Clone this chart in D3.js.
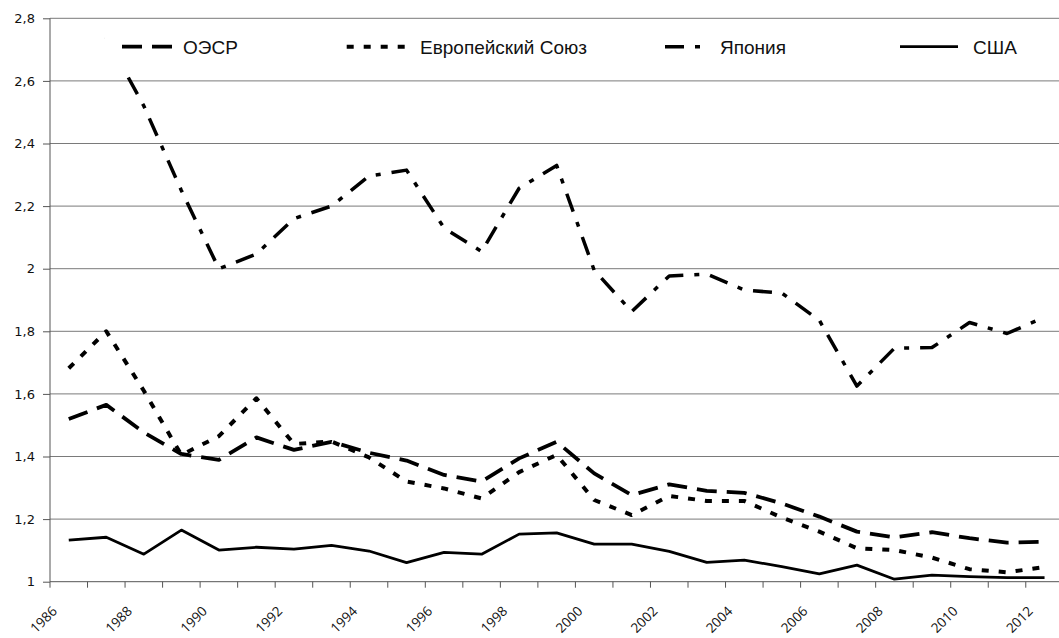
<!DOCTYPE html>
<html>
<head>
<meta charset="utf-8">
<script src="https://cdn.jsdelivr.net/npm/d3@7"></script>
<style>
  html, body { margin: 0; padding: 0; background: #fff; }
  svg { display: block; }
</style>
</head>
<body>
<svg id="chart" width="1059" height="638"></svg>
<script>
const years = [1986,1987,1988,1989,1990,1991,1992,1993,1994,1995,1996,1997,1998,1999,
               2000,2001,2002,2003,2004,2005,2006,2007,2008,2009,2010,2011,2012];
const xTickLabels = [1986,1988,1990,1992,1994,1996,1998,2000,2002,2004,2006,2008,2010,2012];
const yTicks = [1,1.2,1.4,1.6,1.8,2,2.2,2.4,2.6,2.8];
const seriesNames = ["ОЭСР","Европейский Союз","Япония","США"];

const oecd  = [1.520,1.565,1.477,1.408,1.389,1.461,1.421,1.447,1.412,1.387,1.341,1.320,1.394,1.447,
               1.346,1.277,1.311,1.290,1.284,1.250,1.208,1.160,1.142,1.158,1.139,1.125,1.128];
const eu    = [1.682,1.800,1.610,1.405,1.465,1.586,1.440,1.448,1.397,1.320,1.298,1.266,1.350,1.405,
               1.261,1.213,1.274,1.258,1.258,1.205,1.160,1.107,1.101,1.077,1.040,1.030,1.047];
const japan = [null,2.74,2.52,2.25,2.00,2.047,2.16,2.20,2.296,2.315,2.13,2.055,2.257,2.33,
               1.995,1.863,1.977,1.983,1.932,1.922,1.835,1.625,1.746,1.748,1.828,1.793,1.845];
const usa   = [1.133,1.142,1.088,1.165,1.101,1.110,1.104,1.116,1.098,1.061,1.094,1.088,1.152,1.156,
               1.120,1.120,1.097,1.062,1.069,1.048,1.025,1.053,1.008,1.021,1.016,1.013,1.013];

const W = 1059, H = 638;
const pLeft = 50, pTop = 18.3, pBottom = 581.7, step = 37.53;
const svg = d3.select("#chart");

const x = d3.scaleBand().domain(years).range([pLeft, pLeft + step * years.length]).padding(0);
const y = d3.scaleLinear().domain([1, 2.8]).range([pBottom, pTop]);
const cx = d => x(d) + x.bandwidth() / 2;

const fmt = v => (Math.abs(v - Math.round(v)) < 1e-9) ? String(Math.round(v)) : v.toFixed(1).replace(".", ",");

// gridlines
svg.append("g").selectAll("line").data(yTicks.filter(v => v > 1)).join("line")
  .attr("x1", pLeft).attr("x2", W)
  .attr("y1", d => y(d)).attr("y2", d => y(d))
  .attr("stroke", "#7a7a7a").attr("stroke-width", 1);

// y axis
const yAxis = svg.append("g").attr("transform", `translate(${pLeft},0)`)
  .call(d3.axisLeft(y).tickValues(yTicks).tickSize(7).tickPadding(8).tickFormat(fmt));
yAxis.select(".domain").attr("stroke", "#555").attr("d", `M0,${pTop}V${pBottom}`);
yAxis.selectAll(".tick line").attr("stroke", "#555");
yAxis.selectAll(".tick text").attr("font-family", "DejaVu Sans, Verdana, sans-serif")
  .attr("font-size", 13).attr("fill", "#111");

// x axis
const xg = svg.append("g");
xg.append("line").attr("x1", pLeft).attr("x2", W).attr("y1", pBottom).attr("y2", pBottom)
  .attr("stroke", "#555").attr("stroke-width", 1);
xg.selectAll("line.tk").data(years).join("line").attr("class", "tk")
  .attr("x1", d => x(d)).attr("x2", d => x(d))
  .attr("y1", pBottom).attr("y2", pBottom + 6)
  .attr("stroke", "#555").attr("stroke-width", 1);
xg.selectAll("text").data(xTickLabels).join("text")
  .attr("transform", d => `translate(${cx(d) - 10.8},612) rotate(-45)`)
  .attr("text-anchor", "end")
  .attr("font-family", "Open Sans, sans-serif").attr("font-size", 13.5)
  .attr("fill", "#111")
  .text(d => d);

// lines
const styles = [
  {data: oecd,  dash: "20,10",       w: 3.8},
  {data: eu,    dash: "7,10",        w: 4},
  {data: japan, dash: "19,11,5,11",  w: 3.5},
  {data: usa,   dash: null,          w: 2.8}
];
const line = d3.line().defined(d => d.v != null).x(d => cx(d.year)).y(d => y(d.v));
styles.forEach(s => {
  svg.append("path")
    .datum(years.map((yr, i) => ({year: yr, v: s.data[i]})))
    .attr("d", line)
    .attr("fill", "none").attr("stroke", "#000")
    .attr("stroke-width", s.w)
    .attr("stroke-dasharray", s.dash)
    .attr("stroke-linejoin", "round");
});

// legend (white box overlapping plot)
const lg = svg.append("g");
lg.append("rect").attr("x", 105).attr("y", 26).attr("width", 935).attr("height", 50).attr("fill", "#fff");
const legendItems = [
  {name: seriesNames[0], x1: 122, x2: 172, tx: 183, s: styles[0]},
  {name: seriesNames[1], x1: 346.7, x2: 406, tx: 420, s: styles[1]},
  {name: seriesNames[2], x1: 665, x2: 711, tx: 720, s: styles[2]},
  {name: seriesNames[3], x1: 900, x2: 958, tx: 973, s: styles[3]}
];
legendItems.forEach(it => {
  lg.append("line").attr("x1", it.x1).attr("x2", it.x2).attr("y1", 46.7).attr("y2", 46.7)
    .attr("stroke", "#000").attr("stroke-width", it.s.w).attr("stroke-dasharray", it.s.dash);
  lg.append("text").attr("x", it.tx).attr("y", 53.5)
    .attr("font-family", "Liberation Sans, Arial, sans-serif").attr("font-size", 19)
    .attr("fill", "#111").text(it.name);
});
</script>
</body>
</html>
